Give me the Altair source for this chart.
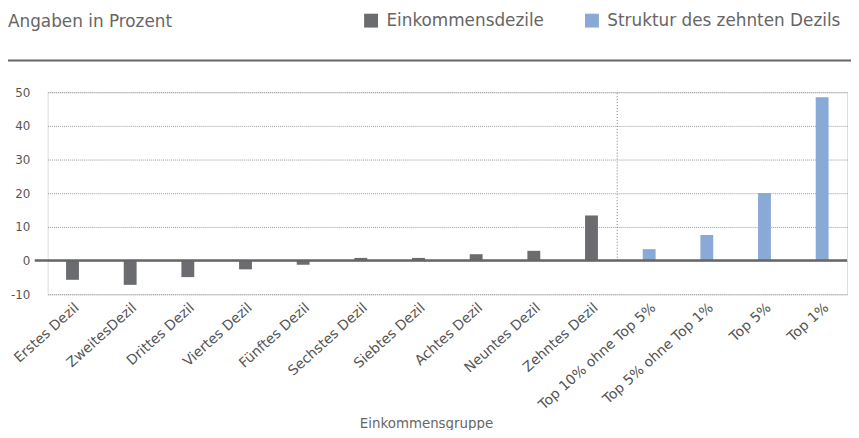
import altair as alt
import pandas as pd

categories = [
    "Erstes Dezil", "ZweitesDezil", "Drittes Dezil", "Viertes Dezil",
    "Fünftes Dezil", "Sechstes Dezil", "Siebtes Dezil", "Achtes Dezil",
    "Neuntes Dezil", "Zehntes Dezil", "Top 10% ohne Top 5%",
    "Top 5% ohne Top 1%", "Top 5%", "Top 1%",
]
values = [-5.7, -7.2, -4.9, -2.6, -1.2, 0.8, 0.8, 1.9, 2.9, 13.4, 3.4, 7.6, 20.1, 48.5]
groups = [
    "Einkommensdezile", "Einkommensdezile", "Einkommensdezile", "Einkommensdezile",
    "Einkommensdezile", "Einkommensdezile", "Einkommensdezile", "Einkommensdezile",
    "Einkommensdezile", "Einkommensdezile",
    "Struktur des zehnten Dezils", "Struktur des zehnten Dezils",
    "Struktur des zehnten Dezils", "Struktur des zehnten Dezils",
]
series_names = ["Einkommensdezile", "Struktur des zehnten Dezils"]
series_colors = ["#6b6c70", "#89a9d7"]
y_ticks = [-10, 0, 10, 20, 30, 40, 50]
header = ["Angaben in Prozent"]

df = pd.DataFrame({"Gruppe": categories, "Wert": values, "Typ": groups})

W, H = 807, 204
FONT = "DejaVu Sans"

y_scale = alt.Scale(domain=[-10, 50], nice=False, zero=False)
y_axis = alt.Axis(
    values=y_ticks, title=None, domain=False, ticks=False, tickSize=0,
    labelPadding=18, gridDash=[1, 1], gridColor="#999", gridWidth=1,
    labelFontSize=12, labelColor="#555", labelFont=FONT,
    labelOverlap=False, labelExpr="'' + datum.value",
)

bars = alt.Chart(df).mark_bar().encode(
    x=alt.X(
        "Gruppe:N",
        sort=categories,
        scale=alt.Scale(paddingInner=0.777, paddingOuter=0.32),
        axis=alt.Axis(
            title="Einkommensgruppe",
            labelAngle=-42, labelAlign="right", labelBaseline="top",
            labelPadding=6, domain=False, ticks=False, grid=False,
            labelFontSize=14, labelColor="#555", labelFont=FONT,
            labelLimit=0, labelOverlap=False,
            titleFontSize=13.5, titleColor="#666", titleFont=FONT,
            titleFontWeight="normal",
            titleX=382, titleY=134, titleAlign="center", titleBaseline="alphabetic",
        ),
    ),
    y=alt.Y("Wert:Q", scale=y_scale, axis=y_axis),
    color=alt.Color(
        "Typ:N",
        scale=alt.Scale(domain=series_names, range=series_colors),
        legend=alt.Legend(
            title=None, orient="none", legendX=318, legendY=-81,
            direction="horizontal", symbolType="square", symbolSize=196,
            symbolStrokeWidth=0, symbolOpacity=1, labelFontSize=17,
            labelColor="#666", labelFont=FONT, labelOffset=7, labelLimit=0,
            columnPadding=39, padding=0,
        ),
    ),
)

zero_line = alt.Chart(pd.DataFrame({"Wert": [0]})).mark_rule(
    color="#666", strokeWidth=2.5
).encode(y=alt.Y("Wert:Q", scale=y_scale, axis=y_axis), x=alt.value(-13), x2=alt.value(W))

divider = alt.Chart(pd.DataFrame({"Wert": [0], "hi": [50]})).mark_rule(
    color="#777", strokeWidth=1, strokeDash=[1, 2]
).encode(x=alt.value(575), y=alt.Y("Wert:Q", scale=y_scale, axis=y_axis), y2="hi:Q")

top_rule = alt.Chart(pd.DataFrame({"a": [0]})).mark_rule(
    color="#666", strokeWidth=2
).encode(x=alt.value(-40), x2=alt.value(W + 4), y=alt.value(-32))

title_text = alt.Chart(pd.DataFrame({"t": header})).mark_text(
    align="left", baseline="alphabetic", fontSize=17, color="#666", font=FONT
).encode(text="t:N", x=alt.value(-40), y=alt.value(-66))

chart = alt.layer(divider, bars, zero_line, top_rule, title_text).properties(
    width=W, height=H,
    autosize=alt.AutoSizeParams(type="none"),
    padding={"left": 40, "top": 83, "right": 4, "bottom": 135},
).configure_view(stroke=None).configure(font=FONT)

chart.save("out.html", embed_options={"renderer": "svg", "actions": False})
